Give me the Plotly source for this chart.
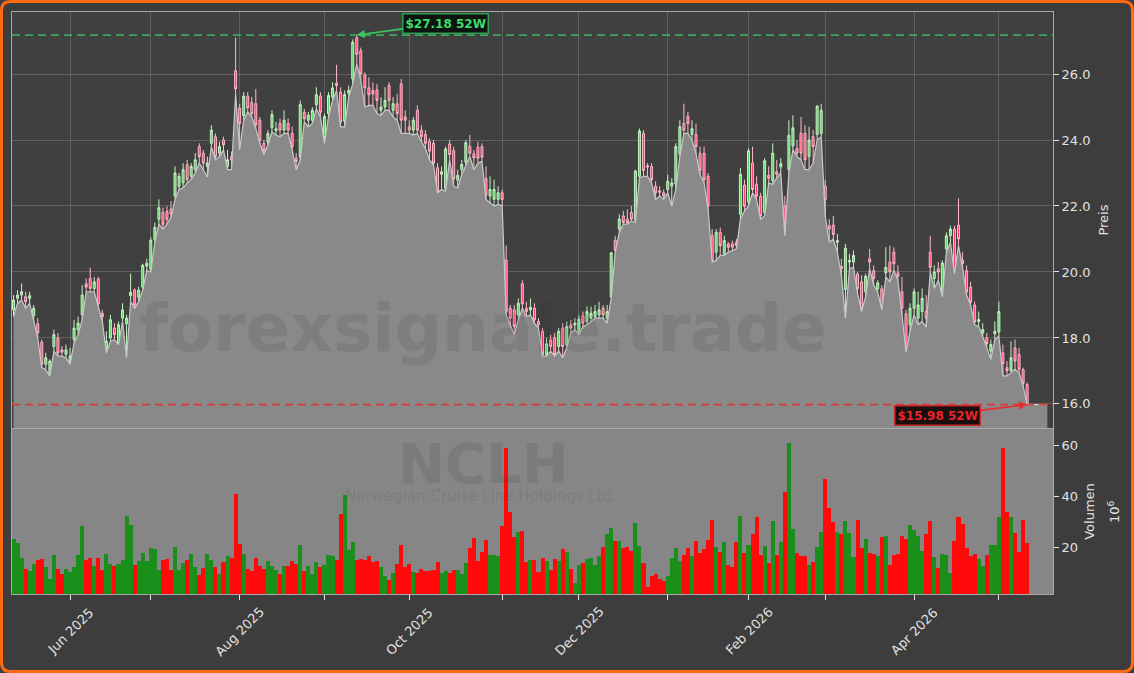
import plotly.graph_objects as go
import pandas as pd

# ---------------- data ----------------
holidays = ["2025-05-26", "2025-06-19", "2025-07-04", "2025-09-01", "2025-11-27",
            "2025-12-25", "2026-01-01", "2026-01-19", "2026-02-16", "2026-04-03"]
dates = pd.bdate_range("2025-05-12", periods=252, freq="C", holidays=holidays)

opens = [18.85, 19.20, 19.30, 19.25, 19.20, 18.67, 18.43, 17.87, 17.20, 16.90,
         17.74, 18.00, 17.64, 17.50, 17.30, 17.95, 18.25, 18.70, 19.64, 19.80,
         19.50, 19.78, 18.75, 17.70, 18.00, 18.30, 17.85, 18.60, 18.43, 19.28,
         19.45, 19.23, 19.54, 20.18, 20.08, 20.98, 21.60, 21.80, 21.83, 21.90,
         22.30, 22.60, 22.70, 23.25, 22.90, 23.10, 23.80, 23.60, 23.20, 23.90,
         24.10, 23.60, 24.00, 23.20, 23.50, 26.10, 24.97, 24.74, 25.33, 25.13,
         25.10, 24.60, 23.90, 23.93, 24.37, 24.28, 24.50, 24.30, 24.50, 24.20,
         23.45, 23.48, 24.84, 24.60, 24.60, 25.07, 25.33, 24.10, 24.80, 25.30,
         25.72, 25.45, 24.57, 25.42, 25.85, 27.10, 26.70, 25.97, 25.58, 25.50,
         25.52, 24.90, 25.00, 25.65, 24.90, 25.10, 25.70, 24.70, 24.40, 24.30,
         24.90, 24.30, 24.17, 23.95, 23.90, 23.16, 22.96, 22.53, 23.88, 23.68,
         22.78, 23.10, 23.33, 23.81, 23.58, 23.78, 23.80, 22.83, 22.30, 22.20,
         22.20, 22.40, 20.36, 18.90, 18.85, 18.70, 19.64, 18.90, 18.85, 18.90,
         18.50, 18.20, 17.50, 17.94, 18.00, 17.74, 18.30, 17.80, 18.40, 18.40,
         18.20, 18.67, 18.50, 18.60, 18.65, 18.70, 18.90, 18.60, 19.25, 20.96,
         21.30, 21.70, 21.60, 21.80, 21.57, 22.90, 24.20, 23.22, 23.20, 22.60,
         22.46, 22.40, 22.50, 22.60, 22.67, 23.58, 24.50, 24.72, 24.17, 24.17,
         23.60, 23.60, 22.90, 21.10, 20.60, 21.20, 20.55, 20.85, 20.85, 20.90,
         21.75, 22.63, 22.13, 23.30, 22.66, 22.29, 21.80, 22.93, 22.76, 23.04,
         23.18, 21.99, 23.11, 23.82, 23.74, 24.20, 24.20, 23.50, 24.10, 24.17,
         24.20, 22.60, 21.40, 21.42, 20.90, 20.17, 19.47, 20.30, 20.30, 19.94,
         19.70, 19.40, 20.40, 20.04, 19.49, 19.49, 19.97, 20.30, 20.60, 19.97,
         19.40, 18.73, 18.40, 18.90, 18.60, 18.80, 18.80, 20.60, 19.80, 20.10,
         19.34, 20.70, 21.10, 21.30, 21.42, 20.35, 20.04, 19.54, 19.00, 18.50,
         18.15, 18.00, 17.60, 18.13, 18.18, 17.55, 17.10, 17.00, 17.70, 17.50,
         17.04, 16.59]
highs = [19.30, 19.45, 19.65, 19.40, 19.40, 19.00, 18.60, 17.95, 17.55, 17.35,
         18.25, 18.15, 17.75, 17.80, 17.70, 18.55, 18.65, 19.60, 19.80, 20.13,
         19.85, 19.85, 18.85, 18.20, 18.70, 18.45, 18.50, 19.05, 18.70, 19.95,
         19.50, 19.55, 20.25, 20.40, 21.05, 21.50, 22.20, 21.95, 22.00, 22.15,
         23.20, 23.00, 23.30, 23.40, 23.30, 23.60, 23.90, 23.70, 23.50, 24.45,
         24.20, 23.95, 24.10, 23.70, 23.65, 27.10, 25.10, 25.45, 25.45, 25.30,
         25.55, 24.70, 24.00, 24.30, 24.90, 24.55, 24.65, 24.90, 24.65, 24.40,
         23.60, 25.20, 24.95, 24.85, 25.00, 25.60, 25.45, 24.80, 25.45, 25.75,
         26.28, 25.60, 25.50, 25.65, 27.05, 27.18, 26.80, 26.05, 25.90, 25.75,
         25.70, 25.30, 25.60, 25.75, 25.30, 25.40, 25.85, 24.90, 24.60, 24.70,
         25.05, 24.45, 24.30, 24.05, 24.00, 23.30, 23.20, 23.80, 24.00, 23.80,
         23.10, 23.40, 24.00, 24.15, 23.70, 23.95, 23.90, 23.20, 22.90, 22.80,
         22.60, 22.50, 20.80, 19.00, 19.00, 19.20, 19.75, 19.10, 19.20, 19.05,
         18.60, 18.30, 18.00, 18.10, 18.15, 18.30, 18.45, 18.50, 18.55, 18.60,
         18.70, 18.80, 18.95, 18.95, 19.00, 19.10, 19.00, 19.00, 20.60, 21.10,
         21.75, 21.85, 21.90, 22.00, 23.10, 24.35, 24.30, 23.30, 23.30, 22.75,
         22.60, 22.50, 22.95, 22.85, 23.90, 24.60, 25.10, 24.85, 24.60, 24.50,
         23.80, 23.80, 23.00, 21.30, 21.30, 21.35, 21.10, 20.90, 20.95, 21.00,
         23.15, 22.80, 23.75, 23.80, 22.90, 22.40, 23.45, 23.20, 23.90, 23.40,
         23.45, 22.30, 24.60, 24.75, 24.00, 24.70, 24.45, 24.40, 24.30, 25.05,
         25.10, 22.80, 21.60, 21.70, 21.15, 20.40, 20.85, 20.55, 20.65, 20.00,
         19.90, 19.95, 20.70, 20.20, 19.75, 19.60, 20.75, 20.80, 20.75, 20.20,
         19.85, 18.85, 19.05, 19.50, 19.40, 19.50, 19.30, 21.10, 20.20, 20.30,
         20.35, 21.20, 21.40, 21.40, 22.23, 20.60, 20.20, 19.70, 19.10, 18.80,
         18.45, 18.15, 17.95, 18.50, 19.10, 17.80, 17.30, 17.90, 17.95, 17.70,
         17.10, 16.65]
lows = [18.65, 19.05, 19.15, 18.90, 19.05, 18.50, 18.00, 17.10, 17.04, 16.84,
        17.60, 17.45, 17.45, 17.40, 17.20, 17.85, 18.10, 18.55, 19.40, 19.40,
        19.40, 18.95, 18.50, 17.55, 17.90, 17.95, 17.80, 18.50, 17.40, 19.10,
        18.90, 19.10, 19.45, 20.05, 20.00, 20.90, 21.45, 21.30, 21.45, 21.65,
        22.20, 22.50, 22.55, 22.70, 22.80, 23.00, 23.30, 23.10, 22.88, 23.80,
        23.40, 23.50, 23.70, 23.10, 23.10, 25.40, 23.70, 24.60, 24.85, 24.70,
        24.35, 23.90, 23.56, 23.85, 24.25, 24.15, 24.10, 24.20, 24.20, 23.70,
        23.10, 23.40, 24.55, 24.40, 24.50, 24.95, 24.70, 23.90, 24.70, 25.20,
        25.50, 24.40, 24.40, 25.30, 25.70, 26.30, 25.80, 25.00, 25.05, 25.05,
        24.80, 24.75, 24.90, 24.90, 24.70, 24.60, 24.20, 24.20, 24.20, 24.15,
        24.20, 23.95, 23.75, 23.40, 23.25, 22.40, 22.50, 22.45, 23.40, 22.60,
        22.55, 22.95, 23.20, 23.50, 23.10, 23.30, 23.35, 22.20, 22.10, 22.00,
        22.05, 22.00, 18.70, 18.40, 18.10, 18.55, 18.90, 18.65, 18.70, 18.45,
        18.30, 17.45, 17.45, 17.60, 17.45, 17.60, 17.40, 17.70, 18.15, 18.25,
        18.10, 18.35, 18.40, 18.50, 18.60, 18.60, 18.60, 18.45, 19.20, 20.60,
        21.20, 21.45, 21.45, 21.55, 21.50, 22.85, 22.90, 22.90, 22.70, 22.20,
        22.30, 22.20, 22.40, 22.00, 22.50, 23.50, 24.20, 24.20, 24.00, 23.60,
        22.95, 22.70, 21.90, 20.30, 20.35, 20.50, 20.50, 20.60, 20.65, 20.70,
        21.60, 21.85, 22.00, 22.40, 22.20, 21.60, 21.70, 22.70, 22.65, 22.85,
        23.00, 21.10, 23.00, 23.70, 23.50, 23.40, 23.10, 23.10, 23.30, 24.00,
        24.10, 21.70, 20.90, 21.00, 20.60, 19.90, 18.60, 20.10, 20.15, 19.35,
        18.80, 19.25, 20.10, 19.60, 19.40, 18.85, 19.85, 19.70, 20.05, 19.75,
        18.70, 17.57, 18.20, 18.70, 18.40, 18.50, 18.33, 20.00, 19.50, 19.75,
        19.25, 20.60, 20.90, 19.95, 20.80, 20.15, 19.30, 19.00, 18.40, 18.35,
        18.05, 17.70, 17.35, 17.95, 18.05, 16.85, 16.85, 16.95, 17.05, 16.95,
        16.55, 15.98]
closes = [19.15, 19.30, 19.40, 19.10, 19.28, 18.90, 18.15, 17.20, 17.40, 17.30,
          18.10, 17.54, 17.57, 17.64, 17.45, 18.30, 18.45, 19.30, 19.54, 19.50,
          19.70, 19.03, 18.65, 17.90, 18.55, 18.10, 18.40, 18.85, 18.60, 19.38,
          19.00, 19.45, 20.20, 20.26, 20.96, 21.35, 21.95, 21.44, 21.60, 21.75,
          23.00, 22.90, 23.10, 22.80, 23.20, 23.40, 23.50, 23.30, 23.30, 24.30,
          23.50, 23.80, 23.85, 23.40, 23.40, 25.55, 24.50, 25.33, 24.97, 24.80,
          24.46, 23.99, 23.68, 24.20, 24.77, 24.34, 24.30, 24.60, 24.30, 23.80,
          23.35, 25.07, 24.64, 24.75, 24.90, 25.37, 24.84, 24.71, 25.35, 25.58,
          25.65, 24.54, 25.38, 25.50, 26.96, 26.60, 26.00, 25.58, 25.37, 25.40,
          25.20, 25.00, 25.20, 25.20, 25.10, 24.80, 24.60, 24.60, 24.30, 24.60,
          24.30, 24.10, 23.90, 23.66, 23.30, 22.42, 23.04, 23.73, 23.56, 22.83,
          22.93, 23.26, 23.92, 23.60, 23.46, 23.45, 23.48, 22.33, 22.50, 22.50,
          22.40, 22.20, 18.80, 18.60, 18.35, 19.05, 19.03, 18.80, 18.93, 18.55,
          18.40, 17.50, 17.82, 17.74, 17.50, 18.20, 17.74, 18.35, 18.30, 18.45,
          18.57, 18.45, 18.80, 18.75, 18.80, 18.85, 18.70, 18.80, 20.58, 20.66,
          21.60, 21.50, 21.50, 21.60, 23.06, 24.27, 23.08, 23.18, 22.80, 22.40,
          22.42, 22.30, 22.75, 22.70, 23.80, 24.40, 24.30, 24.50, 24.34, 23.80,
          23.08, 22.80, 22.00, 20.35, 21.20, 20.80, 20.95, 20.75, 20.75, 20.80,
          22.96, 21.99, 23.67, 22.50, 22.30, 21.70, 23.37, 22.84, 23.60, 22.96,
          23.28, 21.50, 24.14, 24.37, 23.60, 23.60, 23.40, 24.00, 23.80, 25.03,
          24.90, 22.20, 21.30, 21.14, 20.95, 20.10, 20.72, 20.35, 20.50, 19.50,
          18.90, 19.87, 20.30, 19.80, 19.67, 18.93, 20.14, 20.00, 20.25, 19.87,
          18.90, 17.67, 18.90, 19.40, 19.00, 19.20, 18.60, 20.14, 20.00, 20.00,
          20.27, 21.10, 21.30, 20.04, 21.00, 20.25, 19.39, 19.09, 18.48, 18.56,
          18.25, 17.83, 17.80, 18.20, 18.80, 17.22, 17.00, 17.40, 17.30, 17.05,
          16.62, 16.00]
volumes = [23.1, 21.4, 15.7, 11.5, 10.6, 13.4, 15.0, 15.4, 12.2, 7.5,
           16.9, 11.2, 9.4, 11.2, 10.3, 12.1, 16.9, 28.2, 15.0, 15.7,
           12.6, 15.7, 11.0, 17.3, 13.4, 12.6, 13.4, 15.0, 32.2, 28.6,
           13.0, 14.5, 17.6, 14.5, 19.6, 19.2, 11.0, 15.0, 15.4, 11.0,
           20.0, 11.0, 13.7, 15.0, 17.3, 12.2, 9.0, 11.8, 17.3, 15.0,
           12.2, 9.4, 14.1, 16.5, 15.7, 40.8, 21.0, 17.3, 11.4, 10.6,
           15.7, 12.6, 11.4, 14.5, 12.6, 11.0, 9.4, 12.6, 12.6, 14.5,
           13.4, 20.8, 10.6, 12.6, 9.4, 14.1, 12.2, 13.0, 16.9, 16.5,
           15.0, 33.1, 40.3, 18.8, 22.0, 15.0, 15.4, 15.0, 16.5, 14.1, 14.5,
           12.1, 8.6, 7.1, 9.8, 13.3, 20.8, 12.2, 13.3, 10.2, 9.8,
           11.4, 10.6, 10.6, 11.0, 14.1, 9.8, 10.6, 9.8, 11.0, 11.0,
           9.4, 13.7, 19.6, 23.5, 14.5, 18.0, 22.7, 16.9, 16.9, 16.5,
           28.2, 58.8, 33.7, 23.9, 25.9, 26.3, 14.1, 15.0, 15.0, 10.2,
           15.7, 14.5, 11.0, 15.4, 14.5, 19.2, 18.0, 11.4, 5.9, 13.0,
           13.7, 15.4, 15.7, 13.0, 16.5, 20.0, 25.1, 27.4, 22.3, 22.3,
           19.6, 20.0, 18.4, 29.4, 20.4, 13.7, 4.5, 8.6, 9.4, 7.5,
           6.7, 8.6, 15.7, 19.6, 14.5, 16.9, 19.6, 16.5, 22.3, 17.6,
           19.2, 22.7, 30.6, 20.0, 18.0, 22.0, 13.0, 12.2, 22.0, 32.2,
           17.6, 20.8, 25.1, 31.8,
           16.9, 20.4, 13.7, 30.2, 16.9, 22.0, 41.6, 60.8, 27.1, 17.6,
           16.5, 16.5, 13.0, 14.1, 20.0, 25.9, 46.7, 35.3, 29.8, 25.9,
           25.1, 30.2, 25.5, 16.1, 30.6, 19.6, 23.1, 17.6, 17.3, 16.5,
           23.9, 24.3, 13.0, 16.9, 17.3, 24.3, 23.1, 28.6, 26.7, 24.3,
           18.4, 25.1, 30.2, 16.1, 11.8, 17.3, 16.9, 9.8, 22.3, 31.8,
           29.0, 19.6, 16.5, 17.3, 15.4, 12.6, 16.9, 20.8, 20.8, 31.8,
           58.8, 33.7, 31.8, 25.5, 18.0, 30.6, 21.6]
area_tail_lows = [15.98, 15.98, 15.98, 15.98, 15.98]

ticker = "NCLH"
company = "Norwegian Cruise Line Holdings Ltd."
watermark = "forexsignale.trade"
high_52w = max(highs)
low_52w = min(lows)
hi_idx = highs.index(high_52w)
lo_idx = lows.index(low_52w)

# ---------------- figure geometry ----------------
W, H = 1134, 673
ML, MR, MT, MB = 12, 81, 12, 79
PW, PH = W - ML - MR, H - MT - MB


def to_paper(px, py):
    return (px - ML) / PW, (H - MB - py) / PH


n = len(closes)
idx = list(range(n))
area_x = list(range(n + len(area_tail_lows)))
area_y = lows + area_tail_lows

# month ticks (first trading day of each month)
s = pd.Series(range(n), index=dates)
firsts = s.groupby([dates.year, dates.month]).first()
tickvals, labels = [], []
for (yr, mo), i in firsts.items():
    if i == 0:
        continue
    tickvals.append(i)
    if mo % 2 == 0:
        labels.append((i, pd.Timestamp(year=yr, month=mo, day=1).strftime("%b %Y")))

up = [c >= o for o, c in zip(opens, closes)]
vol_colors = ["#1b8f1b" if u else "#ff0a0a" for u in up]

fig = go.Figure()
fig.add_trace(go.Scatter(x=area_x, y=area_y, mode="lines", fill="tozeroy",
                         fillcolor="#898989", line=dict(color="#c9c9c9", width=1.2),
                         hoverinfo="skip", showlegend=False, xaxis="x", yaxis="y"))
fig.add_trace(go.Candlestick(x=idx, open=opens, high=highs, low=lows, close=closes,
                             increasing=dict(fillcolor="#5fcf63", line=dict(color="#c4f2c4", width=1)),
                             decreasing=dict(fillcolor="#ff3c6c", line=dict(color="#ffb8c8", width=1)),
                             whiskerwidth=0, showlegend=False, xaxis="x", yaxis="y"))
fig.add_trace(go.Bar(x=idx, y=volumes, marker=dict(color=vol_colors, line=dict(width=0)),
                     width=1.0, showlegend=False, xaxis="x2", yaxis="y2"))

xr = [-0.37, 257.4]
axis_font = dict(family="DejaVu Sans", size=13, color="#e2e2e2")
fig.update_layout(
    width=W, height=H,
    margin=dict(l=ML, r=MR, t=MT, b=MB),
    paper_bgcolor="#3d3d3d", plot_bgcolor="#404040",
    font=dict(family="DejaVu Sans", color="#e2e2e2"),
    bargap=0,
    xaxis=dict(domain=[0, 1], anchor="y", range=xr, tickvals=tickvals,
               showticklabels=False, ticks="", showgrid=True, gridcolor="rgba(255,255,255,0.17)",
               gridwidth=1, zeroline=False, showline=True, mirror=True, linecolor="#a8a8a8",
               linewidth=1, rangeslider=dict(visible=False)),
    yaxis=dict(domain=[0.2852, 1], anchor="x", side="right", range=[15.27, 27.88],
               tickvals=[16, 18, 20, 22, 24, 26], tickformat=".1f", ticks="outside",
               ticklen=5, tickcolor="#e2e2e2", tickfont=axis_font, showgrid=True,
               gridcolor="rgba(255,255,255,0.17)", zeroline=False, showline=True, mirror=True,
               linecolor="#a8a8a8", linewidth=1,
               title=dict(text="Preis", font=axis_font, standoff=9)),
    xaxis2=dict(domain=[0, 1], anchor="y2", range=xr, tickvals=tickvals,
                showticklabels=False, ticks="outside", ticklen=5, tickcolor="#e2e2e2",
                showgrid=False, zeroline=False, showline=True, mirror=True,
                linecolor="#a8a8a8", linewidth=1, matches="x"),
    yaxis2=dict(domain=[0, 0.2835], anchor="x2", side="right", range=[1.57, 66.3],
                tickvals=[20, 40, 60], ticks="outside", ticklen=5, tickcolor="#e2e2e2",
                tickfont=axis_font, showgrid=False, zeroline=False, showline=True, mirror=True,
                linecolor="#a8a8a8", linewidth=1,
                title=dict(text="Volumen", font=axis_font, standoff=7)),
)

shapes = []
# volume panel background
shapes.append(dict(type="rect", xref="x2 domain", yref="y2 domain", x0=0, x1=1, y0=0, y1=1,
                   fillcolor="#868686", line=dict(width=0), layer="below"))
# 52W lines
shapes.append(dict(type="line", xref="x domain", yref="y", x0=0, x1=1, y0=high_52w, y1=high_52w,
                   line=dict(color="rgba(60,185,100,0.85)", width=1.6, dash="8px,5px"), layer="above"))
shapes.append(dict(type="line", xref="x domain", yref="y", x0=0, x1=1, y0=low_52w, y1=low_52w,
                   line=dict(color="rgba(235,45,45,0.85)", width=1.6, dash="8px,5px"), layer="above"))

# orange rounded border around the whole figure
r, ins = 9, 1.5
x0p, y0p, x1p, y1p = ins, ins, W - ins, H - ins
pts = [("M", x0p + r, y0p), ("L", x1p - r, y0p), ("Q", x1p, y0p, x1p, y0p + r),
       ("L", x1p, y1p - r), ("Q", x1p, y1p, x1p - r, y1p), ("L", x0p + r, y1p),
       ("Q", x0p, y1p, x0p, y1p - r), ("L", x0p, y0p + r), ("Q", x0p, y0p, x0p + r, y0p)]
path = ""
for p in pts:
    if p[0] == "Q":
        a = to_paper(p[1], p[2]); b = to_paper(p[3], p[4])
        path += f"Q{a[0]:.5f},{a[1]:.5f} {b[0]:.5f},{b[1]:.5f} "
    else:
        a = to_paper(p[1], p[2])
        path += f"{p[0]}{a[0]:.5f},{a[1]:.5f} "
path += "Z"
shapes.append(dict(type="path", xref="paper", yref="paper", path=path,
                   line=dict(color="#ff6a10", width=3), fillcolor="rgba(0,0,0,0)", layer="above"))
fig.update_layout(shapes=shapes)

wm_color = "rgba(35,35,35,0.11)"
ann = []
wx, wy = to_paper(483, 328)
ann.append(dict(x=wx, y=wy, xref="paper", yref="paper", text=watermark, showarrow=False,
                xanchor="center", yanchor="middle",
                font=dict(family="DejaVu Sans", size=66, color=wm_color, weight="bold")))
wx, wy = to_paper(483, 463)
ann.append(dict(x=wx, y=wy, xref="paper", yref="paper", text=ticker, showarrow=False,
                xanchor="center", yanchor="middle",
                font=dict(family="DejaVu Sans", size=56, color=wm_color, weight="bold")))
wx, wy = to_paper(481, 496)
ann.append(dict(x=wx, y=wy, xref="paper", yref="paper", text=company, showarrow=False,
                xanchor="center", yanchor="middle",
                font=dict(family="DejaVu Sans", size=15, color=wm_color)))
# offset text of the volume axis
ox, oy = to_paper(1114, 512)
ann.append(dict(x=ox, y=oy, xref="paper", yref="paper", text="10<sup>6</sup>", showarrow=False,
                textangle=-90, xanchor="center", yanchor="middle", font=axis_font))
# rotated month labels centred on their ticks
_, ly = to_paper(0, 631)
for tv, txt in labels:
    ann.append(dict(x=tv, y=ly, xref="x2", yref="paper", text=txt, showarrow=False,
                    textangle=-45, xanchor="center", yanchor="middle", font=axis_font))
ann.append(dict(x=hi_idx, y=high_52w, xref="x", yref="y", text=f"${high_52w:.2f} 52W",
                showarrow=True, arrowhead=2, arrowsize=1, arrowwidth=1.6, arrowcolor="#3cc860",
                ax=89, ay=-12, font=dict(family="DejaVu Sans", size=12, color="#3ddc6a", weight="bold"),
                bgcolor="#0e1510", bordercolor="#2f9e50", borderwidth=1.5, borderpad=2))
ann.append(dict(x=lo_idx, y=low_52w, xref="x", yref="y", text=f"${low_52w:.2f} 52W",
                showarrow=True, arrowhead=2, arrowsize=1, arrowwidth=1.6, arrowcolor="#ec2a2a",
                ax=-90, ay=11, font=dict(family="DejaVu Sans", size=12, color="#e8262a", weight="bold"),
                bgcolor="#1a0e0e", bordercolor="#c82828", borderwidth=1.5, borderpad=2))
fig.update_layout(annotations=ann)

fig.write_html("out.html")
